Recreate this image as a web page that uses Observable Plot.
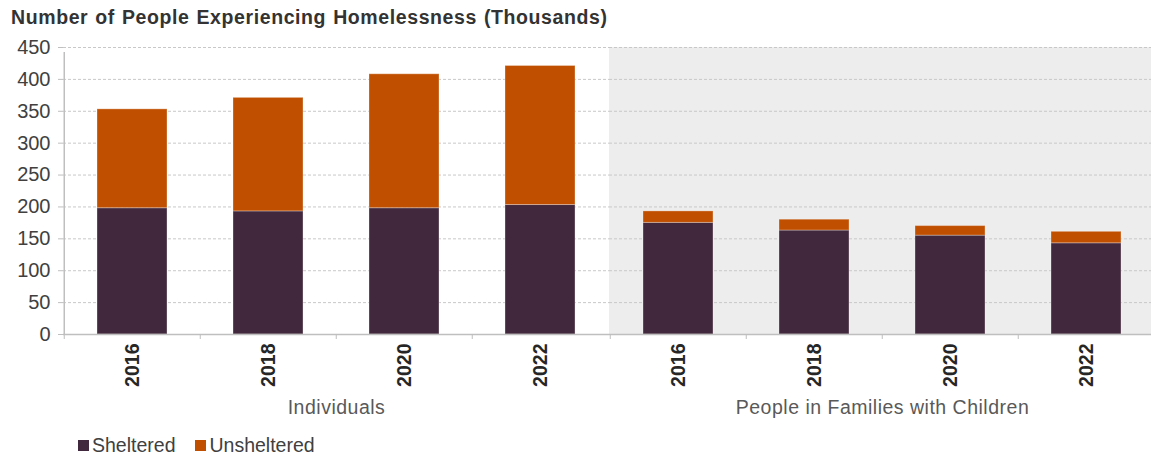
<!DOCTYPE html>
<html><head><meta charset="utf-8">
<script src="https://cdn.jsdelivr.net/npm/d3@7"></script>
<script src="https://cdn.jsdelivr.net/npm/@observablehq/plot@0.6"></script>
<style>
html,body{margin:0;padding:0;background:#fff;overflow:hidden;}
body{font-family:"Liberation Sans",Arial,sans-serif;width:1151px;height:458px;}
#title{height:34px;line-height:34px;padding-left:11px;font-weight:bold;font-size:19.5px;letter-spacing:0.6px;word-spacing:1px;color:#333;white-space:nowrap;}
#chart{width:1151px;overflow:hidden;}
#chart svg{max-width:none !important;display:block;}
svg [aria-label="fx-axis tick label"] text{letter-spacing:0.5px;}
.lg-swatch > svg{margin-right:3px !important;}
.lg-swatch{margin-right:20px !important;}
</style></head><body>
<div id="title">Number of People Experiencing Homelessness (Thousands)</div>
<div id="chart"></div>
<div id="legend"></div>
<script>
const years = ["2016", "2018", "2020", "2022"];
const groups = ["Individuals", "People in Families with Children"];
const statuses = ["Sheltered", "Unsheltered"];
const colors = ["#42283c", "#c04f00"];
const individualsSheltered = [198, 193, 198, 203];
const individualsUnsheltered = [155, 178, 210, 218];
const familiesSheltered = [175, 163, 155, 143];
const familiesUnsheltered = [18, 17, 15, 18];
const yTicks = [50, 100, 150, 200, 250, 300, 350, 400, 450];
const yAxisTicks = [0, 50, 100, 150, 200, 250, 300, 350, 400, 450];

const seriesByGroup = [
  [individualsSheltered, individualsUnsheltered],
  [familiesSheltered, familiesUnsheltered]
];
const data = [];
const slots = [];
groups.forEach((g, gi) => {
  years.forEach((yr, i) => {
    slots.push({group: g, year: yr});
    statuses.forEach((s, si) => {
      data.push({group: g, year: yr, status: s, value: seriesByGroup[gi][si][i]});
    });
  });
});

const W = 1155, ML = 63, MR = 0, MT = 13, MB = 90, H = 390;
const step = (W - ML - MR) / groups.length / years.length;
const font = "'Liberation Sans', Arial, sans-serif";

const chart = Plot.plot({
  width: W, height: H,
  marginLeft: ML, marginRight: MR, marginTop: MT, marginBottom: MB,
  style: {fontFamily: font, background: "transparent", overflow: "visible", maxWidth: "none"},
  fx: {domain: groups, padding: 0, label: null},
  x: {domain: years, paddingInner: 0.487, paddingOuter: 0.2435, label: null},
  y: {domain: [0, 450], label: null},
  color: {domain: statuses, range: colors},
  marks: [
    Plot.barY([groups[1]], {fx: d => d, y1: 0, y2: 450, fill: "#ededed"}),
    Plot.gridY(yTicks, {stroke: "#c8c8c8", strokeOpacity: 1, strokeDasharray: "3,2"}),
    Plot.barY(data, {fx: "group", x: "year", y: "value", fill: "status", order: statuses, stroke: "#ffffff", strokeOpacity: 0.3, strokeWidth: 1}),
    Plot.ruleY([0], {stroke: "#bfbfbf", strokeWidth: 1.5}),
    Plot.ruleX(slots, {fx: "group", x: "year", dx: -step / 2, y1: 0, y2: 0, insetBottom: -5, stroke: "#bfbfbf"}),
    Plot.ruleX([slots[0]], {fx: "group", x: "year", dx: -step / 2, y1: 0, y2: 450, insetBottom: -5, stroke: "#bfbfbf", strokeWidth: 1.5}),
    Plot.axisY(yAxisTicks, {tickSize: 5, tickPadding: 8, stroke: "#bfbfbf", fill: "#404040", fontSize: 20, label: null}),
    Plot.axisX({tickSize: 0, tickPadding: 9, tickRotate: -90, fontSize: 19.5, fontWeight: "bold", fill: "#262626", label: null}),
    Plot.axisFx({anchor: "bottom", tickSize: 0, tickPadding: 66, fontSize: 19.5, fill: "#595959", label: null})
  ]
});
document.getElementById("chart").appendChild(chart);

const legend = Plot.legend({
  color: {domain: statuses, range: colors},
  legend: "swatches",
  swatchSize: 11,
  className: "lg",
  style: {fontSize: "19.5px", fontFamily: font, color: "#404040", marginLeft: "78px", marginTop: "5px"}
});
document.getElementById("legend").appendChild(legend);
</script>
</body></html>
